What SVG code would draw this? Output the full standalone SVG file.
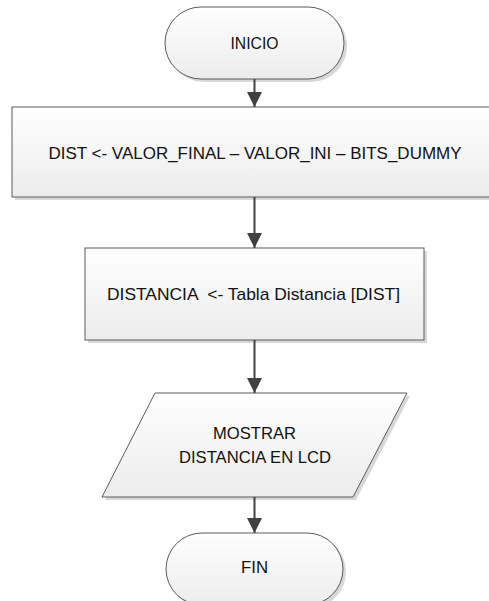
<svg xmlns="http://www.w3.org/2000/svg" width="489" height="601" viewBox="0 0 489 601">
  <defs>
    <linearGradient id="fillGrad" x1="0" y1="0" x2="0" y2="1">
      <stop offset="0" stop-color="#ffffff"/>
      <stop offset="1" stop-color="#ececec"/>
    </linearGradient>
    <marker id="arrow" markerUnits="userSpaceOnUse" markerWidth="16" markerHeight="16" refX="15" refY="7.5" orient="auto">
      <path d="M0,0 L15,7.5 L0,15 z" fill="#404040"/>
    </marker>
    <style>
      .shape { fill: url(#fillGrad); stroke: #5a5a5a; stroke-width: 1; }
      .shadow { fill: #d8d8d8; stroke: none; }
      .label { font-family: "Liberation Sans", Arial, sans-serif; font-size: 17px; fill: #111; text-anchor: middle; white-space: pre; }
      .conn { stroke: #404040; stroke-width: 2; fill: none; marker-end: url(#arrow); }
    </style>
  </defs>
  <rect width="489" height="601" fill="#ffffff"/>

  <g id="inicio">
    <rect class="shadow" x="168" y="10" width="179" height="72" rx="36" ry="36"/>
    <rect class="shape" x="165" y="7" width="179" height="72" rx="36" ry="36"/>
    <text class="label" x="254.5" y="49" textLength="48" lengthAdjust="spacingAndGlyphs">INICIO</text>
  </g>

  <g id="dist">
    <rect class="shadow" x="15" y="110" width="485" height="90"/>
    <rect class="shape" x="12" y="107" width="485" height="90"/>
    <text class="label" x="255" y="159" textLength="413" lengthAdjust="spacingAndGlyphs">DIST &lt;- VALOR_FINAL – VALOR_INI – BITS_DUMMY</text>
  </g>

  <g id="distancia">
    <rect class="shadow" x="88" y="251" width="339" height="92"/>
    <rect class="shape" x="85" y="248" width="339" height="92"/>
    <text class="label" x="253.5" y="300" textLength="293" lengthAdjust="spacingAndGlyphs">DISTANCIA  &lt;- Tabla Distancia [DIST]</text>
  </g>

  <g id="mostrar">
    <polygon class="shadow" points="158,396 410,396 356,500 105,500"/>
    <polygon class="shape" points="155,393 407,393 353,497 102,497"/>
    <text class="label" x="254.5" y="439" textLength="83" lengthAdjust="spacingAndGlyphs">MOSTRAR</text>
    <text class="label" x="255" y="463" textLength="152" lengthAdjust="spacingAndGlyphs">DISTANCIA EN LCD</text>
  </g>

  <g id="fin">
    <rect class="shadow" x="169" y="536" width="177" height="72" rx="36" ry="36"/>
    <rect class="shape" x="166" y="533" width="177" height="72" rx="36" ry="36"/>
    <text class="label" x="254.5" y="573" textLength="27" lengthAdjust="spacingAndGlyphs">FIN</text>
  </g>

  <g id="connectors">
    <line class="conn" x1="254.5" y1="79" x2="254.5" y2="107"/>
    <line class="conn" x1="254.5" y1="197" x2="254.5" y2="248"/>
    <line class="conn" x1="254.5" y1="340" x2="254.5" y2="393"/>
    <line class="conn" x1="254.5" y1="497" x2="254.5" y2="533"/>
  </g>
</svg>
